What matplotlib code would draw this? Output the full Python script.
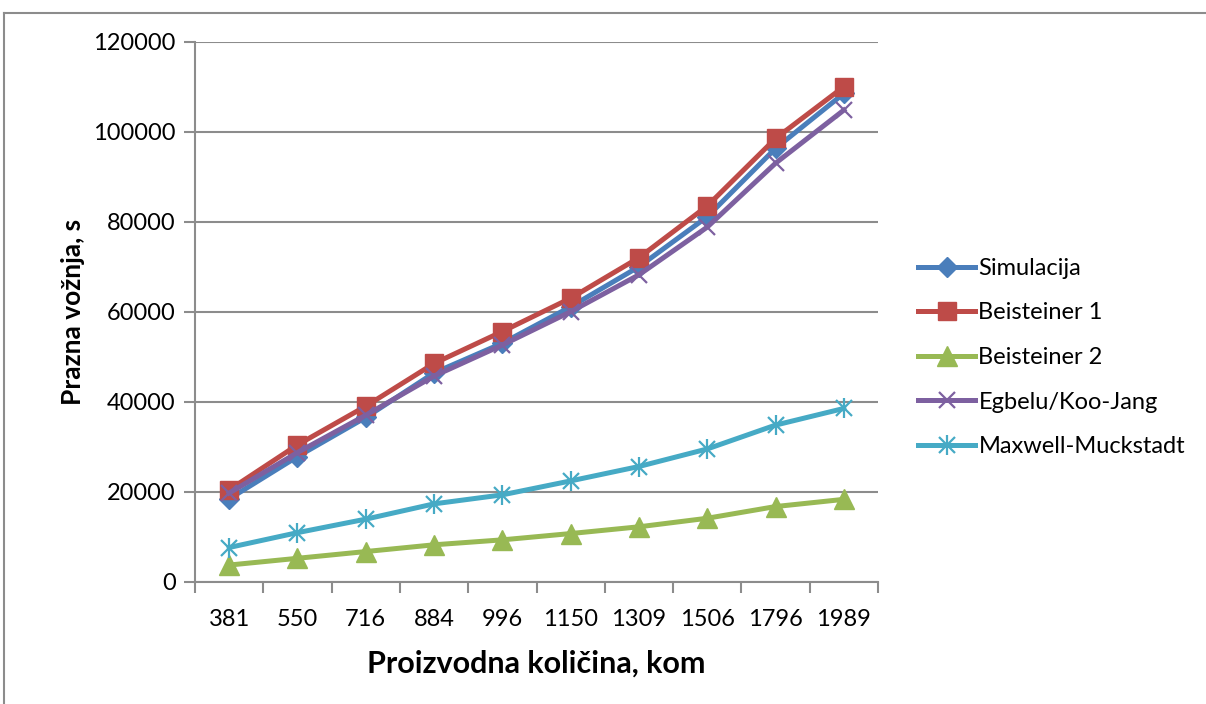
import numpy as np
import matplotlib
matplotlib.use("Agg")
from matplotlib import pyplot as plt
from matplotlib.lines import Line2D

plt.rcParams['font.family'] = ['Lato', 'DejaVu Sans']

categories = ['381', '550', '716', '884', '996', '1150', '1309', '1506', '1796', '1989']

simulacija = [18400, 27800, 36500, 46400, 53000, 61100, 70000, 81100, 96300, 108500]
beisteiner1 = [20400, 30400, 39000, 48500, 55600, 63000, 72000, 83500, 98500, 110000]
beisteiner2 = [3700, 5200, 6700, 8200, 9300, 10700, 12200, 14100, 16700, 18300]
egbelu = [19700, 28700, 37000, 45700, 52600, 60000, 68200, 78800, 93000, 104800]
maxwell = [7600, 10900, 13900, 17300, 19300, 22400, 25600, 29500, 34800, 38500]

names = ['Simulacija', 'Beisteiner 1', 'Beisteiner 2', 'Egbelu/Koo-Jang', 'Maxwell-Muckstadt']
colors = ['#4a7ebb', '#be4b48', '#98b954', '#7d60a0', '#46aac5']

fig = plt.figure(figsize=(12.06, 7.04), dpi=100)
ax = fig.add_axes([195 / 1206, 1 - 581.7 / 704, (878 - 195) / 1206, 540 / 704])

# outer chart frame (only top and left edges visible)
frame_y = 1 - 13 / 704
frame_x = 4 / 1206
fig.add_artist(Line2D([frame_x, 1.0], [frame_y, frame_y], transform=fig.transFigure,
                      color='#8c8c8c', lw=1.5))
fig.add_artist(Line2D([frame_x, frame_x], [0, frame_y], transform=fig.transFigure,
                      color='#8c8c8c', lw=1.5))

x = np.arange(len(categories))
ax.plot(x, simulacija, color=colors[0], lw=3.6, marker='D', ms=10, zorder=3)
ax.plot(x, beisteiner1, color=colors[1], lw=3.6, marker='s', ms=13, zorder=3)
ax.plot(x, beisteiner2, color=colors[2], lw=3.6, marker='^', ms=14, zorder=3)
ax.plot(x, egbelu, color=colors[3], lw=3.6, marker='x', ms=12, mew=1.6, zorder=3)
ax.plot(x, maxwell, color=colors[4], lw=3.6, marker='x', ms=11, mew=1.6, zorder=3)
ax.plot(x, maxwell, color=colors[4], lw=0, marker='|', ms=15, mew=1.6, zorder=3)

ax.set_xlim(-0.5, len(categories) - 0.5)
ax.set_ylim(0, 120000)
ax.set_yticks(np.arange(0, 120001, 20000))
ax.set_xticks(x)
ax.set_xticklabels(categories)
ax.set_xticks(np.arange(-0.5, len(categories)), minor=True)
ax.tick_params(axis='x', which='major', length=0, pad=20, labelsize=17)
ax.tick_params(axis='x', which='minor', length=8, width=1.5, color='#8c8c8c')
ax.tick_params(axis='y', length=8, width=1.5, color='#8c8c8c', pad=6, labelsize=17)

ax.grid(axis='y', color='#8c8c8c', lw=1.5)
ax.set_axisbelow(True)
for s in ['top', 'right']:
    ax.spines[s].set_visible(False)
for s in ['left', 'bottom']:
    ax.spines[s].set_color('#8c8c8c')
    ax.spines[s].set_linewidth(1.5)

ax.set_xlabel('Proizvodna količina, kom', fontsize=22, fontweight='bold', labelpad=14)
ax.set_ylabel('Prazna vožnja, s', fontsize=19, fontweight='bold', labelpad=6)

# legend handles built to mimic Excel markers
handles = [
    Line2D([], [], color=colors[0], lw=3.6, marker='D', ms=10),
    Line2D([], [], color=colors[1], lw=3.6, marker='s', ms=13),
    Line2D([], [], color=colors[2], lw=3.6, marker='^', ms=14),
    Line2D([], [], color=colors[3], lw=3.6, marker='x', ms=12, mew=1.6),
    (Line2D([], [], color=colors[4], lw=3.6, marker='x', ms=11, mew=1.6),
     Line2D([], [], color=colors[4], lw=0, marker='|', ms=15, mew=1.6)),
]
ax.legend(handles, names, loc='center left', bbox_to_anchor=(1.045, 0.415),
          frameon=False, fontsize=17, labelspacing=1.0, handlelength=2.4,
          handletextpad=0.15, borderaxespad=0)

fig.savefig('out.png', dpi=100)
